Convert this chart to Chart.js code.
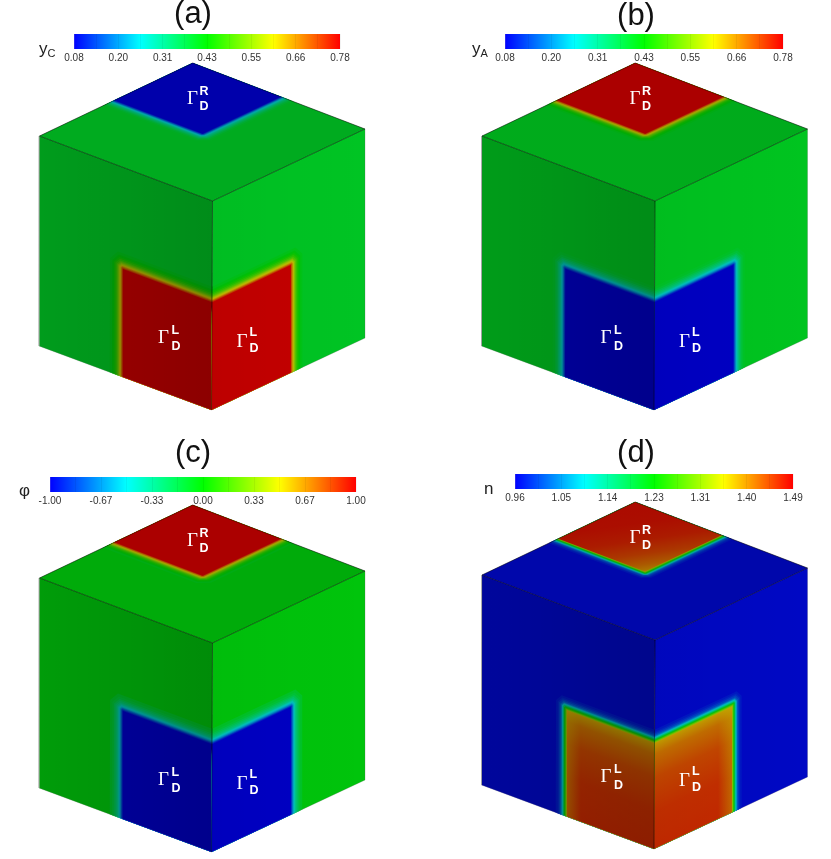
<!DOCTYPE html>
<html>
<head>
<meta charset="utf-8">
<script src="https://cdn.jsdelivr.net/npm/chart.js@4"></script>
<style>
  html, body { margin: 0; background: #fff; }
  #page { position: relative; width: 831px; height: 859px; overflow: hidden; font-family: "Liberation Sans", sans-serif; }
  canvas { position: absolute; }
  .txt { position: absolute; white-space: nowrap; line-height: 1; }
  .gamma { color: #fff; font-family: "Liberation Serif", serif; font-size: 19px; }
  .mark { color: #fff; font-weight: bold; font-size: 12.5px; }
  .title { color: #111; font-size: 31px; transform: translateX(-50%); }
  .name { color: #222; font-size: 17px; }
  .name sub { font-size: 11px; line-height: 0; vertical-align: -3px; }
</style>
</head>
<body>
<div id="page"><canvas id="cubes" width="831" height="859" style="left:0;top:0"></canvas></div>
<script>
// colour bar tick labels
const ticksConc = ['0.08', '0.20', '0.31', '0.43', '0.55', '0.66', '0.78'];
const ticksPhi = ['-1.00', '-0.67', '-0.33', '0.00', '0.33', '0.67', '1.00'];
const ticksN = ['0.96', '1.05', '1.14', '1.23', '1.31', '1.40', '1.49'];

// cube corners
const cornerT = [192.7, 63];
const cornerL = [39.5, 136];
const cornerR = [365, 129];
const cornerC = [212.5, 201];
const cornerBL = [39, 346];
const cornerBR = [365, 338];
const cornerB = [211.5, 410];
const panelShiftX = [0, 442.5, 0, 442.5];
const panelShiftY = [0, 0, 442, 439];

// where the boundary patches start on each face
const sidePatchStart = 0.485;
const topPatchStart = 0.49;

// field values read against the colour bars (0 = bottom of bar, 1 = top)
const blurOffsets = [0.075, 0.062, 0.052, 0.044, 0.037, 0.031, 0.026, 0.021, 0.017, 0.013, 0.009, 0.005, 0.001];
const greenToRed = [0.47, 0.49, 0.52, 0.55, 0.59, 0.63, 0.68, 0.72, 0.77, 0.82, 0.87, 0.93, 1];
const greenToBlue = [0.45, 0.43, 0.40, 0.37, 0.34, 0.31, 0.27, 0.23, 0.19, 0.14, 0.09, 0.04, 0];
const densityOffsets = [0.055, 0.045, 0.038, 0.03, 0.024, 0.02, 0.016, 0.012, 0.008, 0.004, 0, -0.004];
const densityFringe = [0.03, 0.05, 0.08, 0.12, 0.18, 0.24, 0.31, 0.39, 0.47, 0.54, 0.62, 0.68];
const densityInnerOffset = -0.008;
const densitySideStops = [0, 0.1, 0.3, 0.6, 1];
const densitySideValues = [0.80, 0.86, 0.91, 0.94, 0.95];
const densityTopStops = [0, 0.1, 0.25, 0.45, 0.7, 1];
const densityTopValues = [0.82, 0.87, 0.92, 0.96, 0.98, 0.985];
const densityEdgeValue = 0.77;
const backgroundValues = [0.455, 0.46, 0.485, 0.01];

// how much black the lighting adds on each face
const shadeTop = [0.33, 0.33];
const shadeLeft = [0.39, 0.45];
const shadeRight = [0.23, 0.26];

// jet style colour map of the bars
const mapStops = [0, 0.25, 0.5, 0.75, 1];
const mapColors = ['#0000ff', '#00ffff', '#00ff00', '#ffff00', '#ff0000'];

function colorOf(v, alpha = 1) {
    const keys = [[0, 0, 255], [0, 255, 255], [0, 255, 0], [255, 255, 0], [255, 0, 0]];
    let i = Math.min(3, Math.floor(v * 4));
    const f = v * 4 - i;
    const c = keys[i].map((k, n) => Math.round(k + (keys[i + 1][n] - k) * f));
    return `rgba(${c[0]},${c[1]},${c[2]},${alpha})`;
}

function shift(p, panel) {
    return { x: p[0] + panelShiftX[panel], y: p[1] + panelShiftY[panel] };
}

// point inside a face: o is the far corner, d is the corner inside the patch
function onFace(f, a, b) {
    return {
        x: f.o.x * (1 - a) * (1 - b) + f.a.x * a * (1 - b) + f.b.x * (1 - a) * b + f.d.x * a * b,
        y: f.o.y * (1 - a) * (1 - b) + f.a.y * a * (1 - b) + f.b.y * (1 - a) * b + f.d.y * a * b
    };
}

// the inner corner is cut a bit, the blur rounds it in the picture
function quadData(f, a0, b0, cut = 0) {
    return [onFace(f, a0 + cut, b0), onFace(f, 1, b0), onFace(f, 1, 1), onFace(f, a0, 1), onFace(f, a0, b0 + cut), onFace(f, a0 + cut, b0)];
}

function polygon(data, color) {
    return { data, fill: 'shape', backgroundColor: color, borderWidth: 0, pointRadius: 0, showLine: true, tension: 0 };
}

// gradient between two data points, goes through the chart scales
function lineGradient(p0, p1, stops) {
    return c => {
        const { chart } = c;
        if (!chart.chartArea) return 'transparent';
        const { x, y } = chart.scales;
        const g = chart.ctx.createLinearGradient(x.getPixelForValue(p0.x), y.getPixelForValue(p0.y), x.getPixelForValue(p1.x), y.getPixelForValue(p1.y));
        stops.forEach(s => g.addColorStop(s[0], s[1]));
        return g;
    };
}

// shade over one face, left to right
function shadeGradient(f, alphas) {
    const xs = [f.o.x, f.a.x, f.b.x, f.d.x];
    const flip = f.o.x > f.a.x;
    const p0 = { x: Math.min(...xs), y: 0 };
    const p1 = { x: Math.max(...xs), y: 0 };
    return lineGradient(p0, p1, [
        [0, `rgba(0,0,0,${flip ? alphas[1] : alphas[0]})`],
        [1, `rgba(0,0,0,${flip ? alphas[0] : alphas[1]})`]
    ]);
}

function blurBands(f, start, offsets, values) {
    return offsets.map((off, i) => polygon(quadData(f, start - off, start - off, Math.max(off, 0) * 0.6), colorOf(values[i])));
}

function faceDatasets(f, bg, start, offsets, values, alphas) {
    return [
        polygon(quadData(f, 0, 0), colorOf(bg)),
        ...blurBands(f, start, offsets, values),
        polygon(quadData(f, 0, 0), shadeGradient(f, alphas))
    ];
}

// panel (d): thin fringe, then a smooth inner field
function densityTopFace(f, bg, alphas) {
    const s = topPatchStart - densityInnerOffset;
    const stops = densityTopStops.map((p, i) => [p, colorOf(densityTopValues[i])]);
    return [
        polygon(quadData(f, 0, 0), colorOf(bg)),
        ...blurBands(f, topPatchStart, densityOffsets, densityFringe),
        polygon(quadData(f, s, s), lineGradient(onFace(f, s, s), f.d, stops)),
        polygon(quadData(f, 0, 0), shadeGradient(f, alphas))
    ];
}

function densitySideFace(f, bg, alphas) {
    const s = sidePatchStart - densityInnerOffset;
    const stops = densitySideStops.map((p, i) => [p, colorOf(densitySideValues[i])]);
    const left = onFace(f, s, s), right = onFace(f, 1, s);
    const ex = right.x - left.x, ey = right.y - left.y, len = Math.hypot(ex, ey);
    const mid = { x: (left.x + right.x) / 2, y: (left.y + right.y) / 2 };
    const sign = ex > 0 ? 1 : -1;
    const end = { x: mid.x - sign * ey / len * 105, y: mid.y + sign * ex / len * 105 };
    const sideEnd = { x: left.x + sign * 14, y: left.y };
    return [
        polygon(quadData(f, 0, 0), colorOf(bg)),
        ...blurBands(f, sidePatchStart, densityOffsets, densityFringe),
        polygon(quadData(f, s, s), lineGradient(mid, end, stops)),
        polygon(quadData(f, s, s), lineGradient(left, sideEnd, [[0, colorOf(densityEdgeValue, 0.45)], [1, colorOf(densityEdgeValue, 0)]])),
        polygon(quadData(f, 0, 0), shadeGradient(f, alphas))
    ];
}

function edgeLine(points, color) {
    return { data: points, borderColor: color, borderWidth: 0.7, pointRadius: 0, showLine: true, fill: false, tension: 0 };
}

function cubeFaces(panel) {
    const T = shift(cornerT, panel), L = shift(cornerL, panel), R = shift(cornerR, panel);
    const C = shift(cornerC, panel), BL = shift(cornerBL, panel), BR = shift(cornerBR, panel), B = shift(cornerB, panel);
    const inner = 'rgba(0,0,0,0.75)';
    const outer = 'rgba(90,90,90,0.35)';
    return {
        top: { o: C, a: R, b: L, d: T },
        left: { o: L, a: C, b: BL, d: B },
        right: { o: R, a: C, b: BR, d: B },
        edges: [edgeLine([L, BL, B, BR, R], outer), edgeLine([L, T, R], inner), edgeLine([L, C, R], inner), edgeLine([C, B], inner)]
    };
}

function cubeDatasets(panel, topVals, sideVals) {
    const f = cubeFaces(panel);
    const bg = backgroundValues[panel];
    return [
        ...faceDatasets(f.top, bg, topPatchStart, blurOffsets, topVals, shadeTop),
        ...faceDatasets(f.left, bg, sidePatchStart, blurOffsets, sideVals, shadeLeft),
        ...faceDatasets(f.right, bg, sidePatchStart, blurOffsets, sideVals, shadeRight),
        ...f.edges
    ];
}

function densityDatasets(panel) {
    const f = cubeFaces(panel);
    const bg = backgroundValues[panel];
    return [
        ...densityTopFace(f.top, bg, shadeTop),
        ...densitySideFace(f.left, bg, shadeLeft),
        ...densitySideFace(f.right, bg, shadeRight),
        ...f.edges
    ];
}

const allSets = [
    ...cubeDatasets(0, greenToBlue, greenToRed),
    ...cubeDatasets(1, greenToRed, greenToBlue),
    ...cubeDatasets(2, greenToRed, greenToBlue),
    ...densityDatasets(3)
];

// chart.js paints the first dataset last, so flip them
new Chart(document.getElementById('cubes'), {
    type: 'scatter',
    data: { datasets: allSets.reverse() },
    options: {
        responsive: false,
        animation: false,
        events: [],
        layout: { padding: 0 },
        plugins: { legend: { display: false }, tooltip: { enabled: false } },
        scales: {
            x: { display: false, min: 0, max: 831 },
            y: { display: false, min: 0, max: 859, reverse: true }
        }
    }
});

// colour bars
function colorBar(left, top, width, labels) {
    const pad = 24;
    const canvas = document.createElement('canvas');
    canvas.width = width + pad * 2;
    canvas.height = 32;
    canvas.style.left = (left - pad) + 'px';
    canvas.style.top = top + 'px';
    document.getElementById('page').appendChild(canvas);
    new Chart(canvas, {
        type: 'bar',
        data: {
            labels: [''],
            datasets: [{
                data: [labels.length - 1],
                barPercentage: 1,
                categoryPercentage: 1,
                backgroundColor: c => {
                    const { chart } = c;
                    if (!chart.chartArea) return 'transparent';
                    const g = chart.ctx.createLinearGradient(chart.chartArea.left, 0, chart.chartArea.right, 0);
                    mapStops.forEach((s, i) => g.addColorStop(s, mapColors[i]));
                    return g;
                }
            }]
        },
        options: {
            indexAxis: 'y',
            responsive: false,
            animation: false,
            events: [],
            layout: { padding: { left: pad, right: pad, top: 0, bottom: 0 } },
            plugins: { legend: { display: false }, tooltip: { enabled: false } },
            scales: {
                y: { display: false },
                x: {
                    min: 0,
                    max: labels.length - 1,
                    afterFit: s => { s.height = 17; },
                    border: { display: false },
                    grid: { color: 'rgba(0,0,0,0.05)', z: 1, drawTicks: false },
                    ticks: {
                        stepSize: 0.5,
                        autoSkip: false,
                        maxRotation: 0,
                        padding: 3,
                        color: '#333',
                        font: { family: 'Liberation Sans', size: 10 },
                        callback: v => Number.isInteger(v) ? labels[v] : ''
                    }
                }
            }
        }
    });
}

colorBar(73.5, 34, 266.5, ticksConc);
colorBar(504.5, 34, 278, ticksConc);
colorBar(49.5, 477, 306, ticksPhi);
colorBar(515, 474, 278, ticksN);

// texts
function addText(cls, x, y, html) {
    const el = document.createElement('div');
    el.className = 'txt ' + cls;
    el.style.left = x + 'px';
    el.style.top = y + 'px';
    el.innerHTML = html;
    document.getElementById('page').appendChild(el);
}

addText('title', 193, -3, '(a)');
addText('title', 636, -1, '(b)');
addText('title', 193, 436, '(c)');
addText('title', 636, 436, '(d)');
addText('name', 39, 40, 'y<sub>C</sub>');
addText('name', 472, 40, 'y<sub>A</sub>');
addText('name', 19, 482, 'φ');
addText('name', 484, 480, 'n');

panelShiftX.forEach((dx, i) => {
    const dy = panelShiftY[i];
    addText('gamma', 187 + dx, 88 + dy, 'Γ');
    addText('mark', 199.5 + dx, 84.5 + dy, 'R');
    addText('mark', 199.5 + dx, 100 + dy, 'D');
    addText('gamma', 158 + dx, 327 + dy, 'Γ');
    addText('mark', 171.5 + dx, 323.5 + dy, 'L');
    addText('mark', 171.5 + dx, 339.5 + dy, 'D');
    addText('gamma', 236.5 + dx, 331 + dy, 'Γ');
    addText('mark', 249.5 + dx, 325.5 + dy, 'L');
    addText('mark', 249.5 + dx, 341.5 + dy, 'D');
});
</script>
</body>
</html>
